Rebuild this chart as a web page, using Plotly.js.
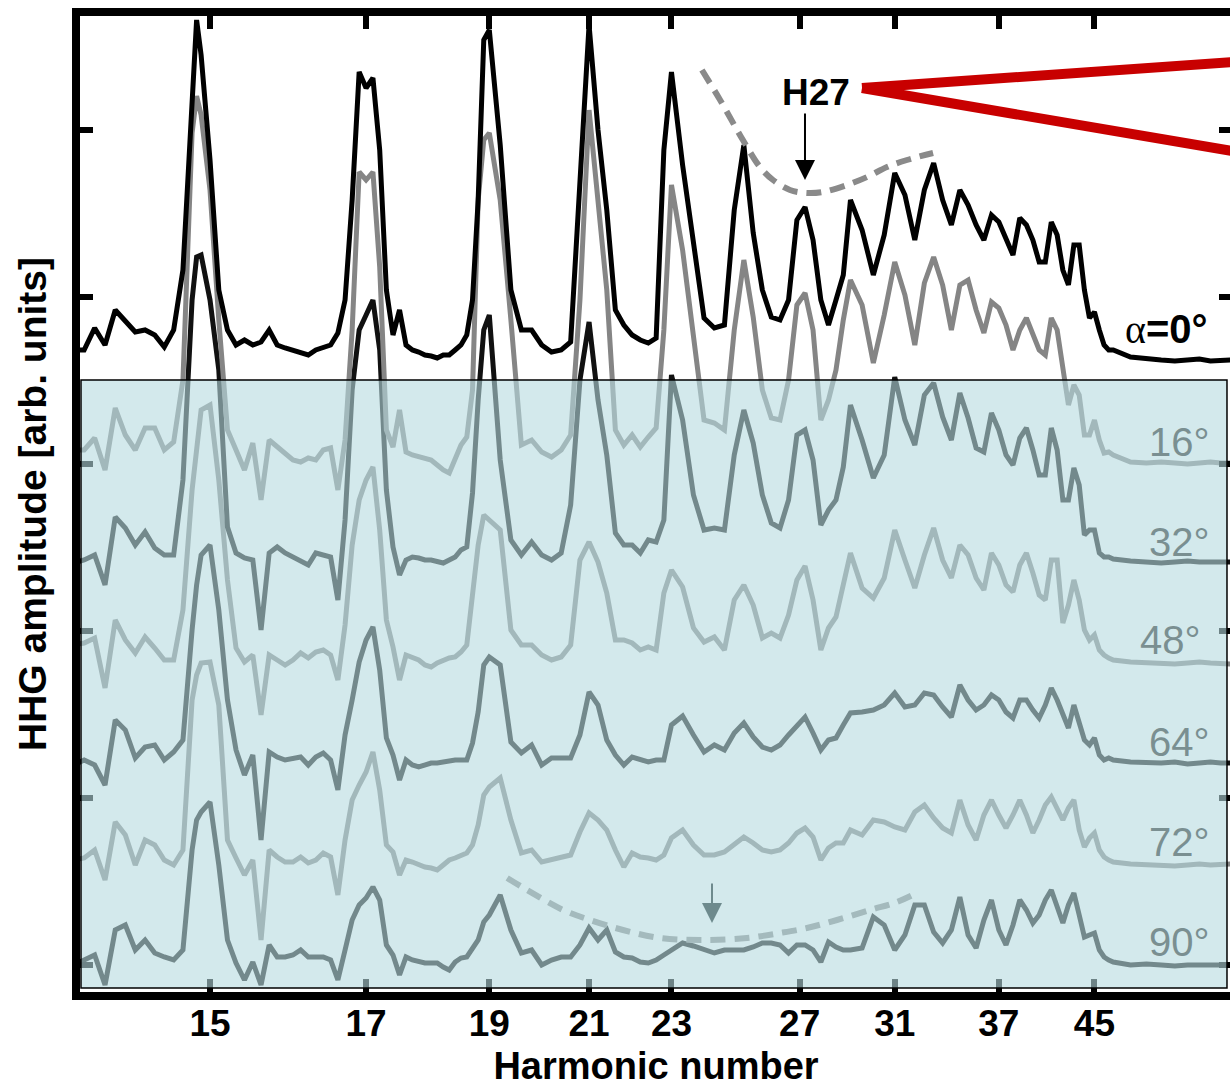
<!DOCTYPE html>
<html><head><meta charset="utf-8">
<script src="https://cdn.plot.ly/plotly-3.0.1.min.js"></script>
<style>html,body{margin:0;padding:0;overflow:hidden;background:#fff}#chart{width:1250px;height:1087px}</style>
</head><body><div id="chart"></div>
<script>
// Harmonic-number grid shared by all spectra
const harmonic = [13.6,13.7,13.8,13.9,14.0,14.1,14.2,14.3,14.4,14.5,14.6,14.7,14.8,14.85,
14.9,15.0,15.1,15.2,15.3,15.4,15.5,15.6,15.7,15.8,15.9,16.0,16.1,16.2,16.3,16.4,16.5,16.6,16.7,16.8,16.9,17.0,17.1,17.2,17.3,17.4,17.5,17.6,17.7,17.8,17.9,18.0,18.1,18.2,18.3,18.4,18.5,18.6,18.7,18.8,18.9,19.0,
19.2,19.4,19.6,19.8,20.0,20.2,20.4,20.6,20.8,21.0,21.2,21.4,21.6,21.8,22.0,22.2,22.4,22.6,22.8,23.0,
23.3,23.6,23.9,24.2,24.5,24.8,25.1,25.4,25.7,26.0,26.3,26.6,26.9,27.2,27.5,27.8,28.1,28.4,28.7,29.0,
29.5,30.0,30.5,31.0,31.5,32.0,32.5,33.0,33.5,34.0,34.5,35.0,35.5,36.0,36.5,37.0,37.5,38.0,38.5,39.0,39.5,40.0,40.5,41.0,41.5,42.0,42.5,43.0,43.5,44.0,44.5,45.0,45.5,46.0,46.5,47.0,
49,51,53,55,57,59,61,63,65];

const tickHarmonics = [15,17,19,21,23,27,31,37,45];
const tickLabels = ['15','17','19','21','23','27','31','37','45'];

const angleLabels = ['α=0°','16°','32°','48°','64°','72°','90°'];
// vertical offset (baseline level) of each spectrum, arb. units
const baselineLevel = [632,529,430,329,229,127,27];

// HHG amplitude above each spectrum's baseline, arb. units
const amp_0 = [10,10,32,15,50,38,28,30,25,13,30,90,265,340,
305,200,70,30,15,20,15,18,30,15,12,10,8,5,10,12,15,27,60,160,288,272,282,210,70,25,50,15,10,8,5,4,2,5,5,10,15,25,60,160,320,330,
215,70,30,30,15,8,10,18,180,335,230,150,50,35,25,20,17,22,210,288,
195,115,42,32,35,150,215,127,70,43,40,60,140,153,120,60,35,60,85,160,
130,85,125,187,165,120,170,197,160,135,170,155,135,120,145,138,120,105,142,135,120,98,98,138,125,90,75,115,115,70,42,48,30,15,10,10,
3,1,0,-1,0,1,-1,0,0];
const amp_16 = [13,13,25,-7,55,28,13,35,35,13,21,83,330,367,
348,273,143,33,13,-7,20,-37,23,16,10,3,1,5,3,13,15,-27,23,133,291,283,291,196,33,16,53,11,8,6,5,3,-2,-7,-10,3,18,26,73,263,323,330,
263,143,18,23,11,6,13,28,163,353,268,173,33,18,28,16,26,35,133,278,
213,130,43,40,33,133,203,146,73,45,43,83,158,170,133,43,63,93,143,183,
158,100,148,201,168,118,180,206,178,133,178,183,153,130,161,155,138,113,133,145,128,113,108,145,133,93,58,78,68,28,28,43,23,10,11,8,
1,0,1,0,-1,0,1,0,0];
const amp_32 = [-1,2,7,-23,45,34,17,30,14,7,7,82,262,305,
307,262,192,35,9,4,2,-68,9,15,9,5,2,-3,9,7,5,-38,42,172,232,247,262,212,72,15,-13,2,5,4,2,2,0,-1,2,5,12,15,69,162,232,247,
102,22,7,20,7,2,9,57,182,240,162,107,29,17,17,9,22,20,42,187,
142,67,32,34,32,107,152,119,67,39,34,62,127,132,102,37,52,62,95,157,
122,84,107,185,142,117,167,179,145,122,169,144,114,110,149,132,107,97,124,134,112,87,87,134,112,62,62,94,77,27,32,32,9,5,5,3,
1,0,-1,0,1,0,0,-1,0];
const amp_48 = [18,20,25,-25,43,23,10,26,15,3,3,53,173,218,
253,258,183,83,15,1,8,-52,8,3,-2,3,10,5,11,13,8,-17,38,118,163,183,196,133,43,16,-17,8,6,3,-2,-4,0,3,5,6,11,18,70,118,148,143,
133,33,18,18,8,3,6,18,103,121,101,70,23,23,20,13,16,13,70,93,
76,35,21,26,13,63,78,58,25,30,25,48,83,97,63,13,35,46,76,110,
75,65,85,133,103,75,108,135,103,85,118,108,85,73,110,98,78,71,98,110,90,68,63,103,103,40,58,83,63,33,23,28,13,8,5,3,
1,0,0,-1,0,1,0,0,-1];
const amp_64 = [-2,3,-2,-22,43,33,5,16,18,3,11,23,133,178,
208,218,153,63,13,-12,8,-77,11,6,3,5,6,-2,6,10,3,-27,28,63,101,123,136,93,25,8,-17,3,-2,-4,-2,0,0,1,3,3,3,3,20,51,98,106,
98,21,10,18,-2,5,5,5,28,71,58,23,8,-2,6,3,1,3,3,38,
47,28,11,18,13,30,40,26,16,13,18,28,38,46,30,13,23,25,38,50,
51,53,58,70,56,58,70,68,56,46,78,63,53,58,68,63,51,45,63,63,53,45,58,75,63,48,35,58,41,23,18,25,8,3,5,3,
1,0,0,1,-1,0,1,0,0];
const amp_72 = [5,7,15,-15,43,30,0,25,20,5,0,15,165,190,
202,203,160,25,7,-10,5,-75,15,8,3,3,8,2,5,12,8,-30,25,65,80,93,113,75,20,13,-10,5,3,0,-2,-3,-5,0,5,7,10,12,20,40,70,78,
87,45,12,15,3,5,7,10,33,52,45,35,15,-2,12,8,7,5,10,27,
35,20,10,10,13,20,28,22,15,13,15,22,32,37,28,5,17,22,22,35,
30,45,43,38,35,53,60,47,37,32,65,40,25,50,65,50,37,50,65,50,32,45,60,68,57,45,57,65,35,18,27,32,15,8,5,3,
1,0,0,-1,0,1,0,0,1];
const amp_90 = [0,5,10,-20,35,40,15,25,12,8,5,15,115,145,
153,163,100,25,2,-15,3,-20,20,8,8,10,15,8,8,8,5,-15,15,45,60,67,78,65,20,10,-10,8,5,3,2,2,2,-2,-5,3,7,8,17,25,43,50,
70,35,12,15,0,5,8,8,20,37,25,35,13,8,7,3,2,5,10,15,
22,19,15,12,15,15,15,18,22,22,20,12,20,20,15,3,23,18,15,15,
17,48,40,15,30,60,60,33,22,35,68,30,17,45,65,35,20,40,65,55,42,50,65,75,60,42,60,72,50,28,30,32,15,8,5,3,
0,1,0,-1,0,0,1,0,0];

// dashed guide lines (harmonic number, level)
const guideUpperN = [23.84,24.37,25.07,25.62,26.06,26.65,27.27,27.88,28.85,29.72,30.63,31.60,32.97];
const guideUpperY = [922,892,852,825,812,802,799,800,807,815,825,832,839];
const guideLowerN = [19.33,19.71,20.44,21.02,21.78,22.70,23.87,25.20,26.30,27.27,28.44,29.85,31.11,32.11];
const guideLowerY = [114,102,82,72,62,54,52,54,59,64,72,82,90,99];

const X = n => 1000 / n; // axis is linear in 1/n (wavelength)

const series = [amp_0, amp_16, amp_32, amp_48, amp_64, amp_72, amp_90];
const colors = ['#000000','#858585','#111111','#858585','#111111','#858585','#111111'];
const xs = harmonic.map(X);
const traces = [];
for (let i = series.length - 1; i >= 0; i--) {
  traces.push({
    x: xs, y: series[i].map(v => baselineLevel[i] + v),
    type: 'scatter', mode: 'lines', name: angleLabels[i],
    line: {color: colors[i], width: 5}, hoverinfo: 'skip', showlegend: false
  });
}
traces.push({x: guideUpperN.map(X), y: guideUpperY, mode: 'lines', line: {color: '#8a8a8a', width: 6, dash: '15px,9px', shape: 'spline'}, showlegend: false, hoverinfo: 'skip'});
traces.push({x: guideLowerN.map(X), y: guideLowerY, mode: 'lines', line: {color: '#8a8a8a', width: 6, dash: '15px,9px', shape: 'spline'}, showlegend: false, hoverinfo: 'skip'});

const lenOK = series.every(s => s.length === harmonic.length);

const labelY = [638,526,426,328,226,126,26];
const labelX = [16.416,16.315,16.315,16.768,16.315,16.315,16.315];
const annotations = [];
for (let i = 0; i < angleLabels.length; i++) {
  annotations.push({
    x: labelX[i], y: labelY[i], xref: 'x', yref: 'y', xanchor: 'right', yanchor: 'bottom', showarrow: false,
    text: i === 0 ? '<span style="font-family:Liberation Serif">α</span><b>=0°</b>' : angleLabels[i],
    font: {family: 'Liberation Sans, Arial, sans-serif', size: 40, color: i === 0 ? '#000' : '#7a8f91'}
  });
}
annotations.push({x: 36.215, y: 900, xref: 'x', yref: 'y', text: '<b>H27</b>', showarrow: false,
  font: {family: 'Liberation Sans, Arial, sans-serif', size: 37, color: '#000'}});
annotations.push({x: 36.768, y: 812, ax: 36.768, ay: 880, xref: 'x', yref: 'y', axref: 'x', ayref: 'y',
  text: '', showarrow: true, arrowhead: 2, arrowsize: 2, arrowwidth: 2, arrowcolor: '#000'});
annotations.push({x: 41.441, y: 69, ax: 41.441, ay: 110, xref: 'x', yref: 'y', axref: 'x', ayref: 'y',
  text: '', showarrow: true, arrowhead: 2, arrowsize: 2, arrowwidth: 2, arrowcolor: '#6e8a8d'});
if (!lenOK) annotations.push({x: 0.5, y: 0.5, xref: 'paper', yref: 'paper', text: 'LENGTH MISMATCH', font: {size: 60, color: 'red'}, showarrow: false});

const shapes = [
  {type: 'rect', xref: 'x', yref: 'y', x0: 73.15, x1: 15.562, y0: 4, y1: 612, layer: 'above',
   fillcolor: 'rgba(181,218,223,0.6)', line: {color: '#000', width: 1.5}},
  {type: 'line', xref: 'x', yref: 'y', x0: 33.903, y0: 904, x1: 15.31, y1: 930, layer: 'above', line: {color: '#c80000', width: 10}},
  {type: 'line', xref: 'x', yref: 'y', x0: 33.903, y0: 904, x1: 15.31, y1: 841, layer: 'above', line: {color: '#c80000', width: 10}}
];

const font = 'Liberation Sans, Arial, sans-serif';
const layout = {
  width: 1250, height: 1087,
  margin: {l: 80, r: 18, t: 16, b: 95},
  paper_bgcolor: '#fff', plot_bgcolor: '#fff',
  showlegend: false,
  xaxis: {
    range: [73.2, 15.31], tickmode: 'array', tickvals: tickHarmonics.map(X), ticktext: tickLabels,
    ticks: 'inside', ticklen: 13, tickwidth: 6, tickcolor: '#000',
    showline: true, linewidth: 8, linecolor: '#000', mirror: 'ticks',
    showgrid: false, zeroline: false, ticklabelstandoff: -8,
    tickfont: {family: font, size: 37, weight: 'bold', color: '#000'},
    title: {text: 'Harmonic number', font: {family: font, size: 38, weight: 'bold', color: '#000'}, standoff: 16}
  },
  yaxis: {
    range: [0, 976], tickmode: 'array', tickvals: [27,194,361,528,695,862],
    ticks: 'inside', ticklen: 13, tickwidth: 6, tickcolor: '#000', showticklabels: false,
    showline: true, linewidth: 8, linecolor: '#000', mirror: 'ticks',
    showgrid: false, zeroline: false,
    title: {text: 'HHG amplitude [arb. units]', font: {family: font, size: 39, weight: 'bold', color: '#000'}, standoff: 16}
  },
  shapes: shapes, annotations: annotations
};
Plotly.newPlot('chart', traces, layout, {displayModeBar: false, staticPlot: true});
</script></body></html>
